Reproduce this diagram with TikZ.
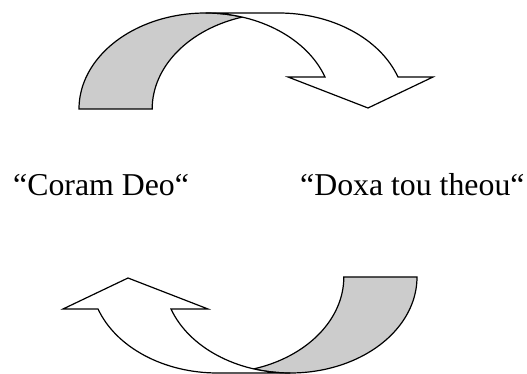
\documentclass[tikz,border=0pt]{standalone}
\usepackage{fontspec}
\setmainfont{Liberation Serif}
\begin{document}
\begin{tikzpicture}[x=1pt,y=1pt,
  back/.style={fill=black!20,draw=black,line width=1.2pt},
  front/.style={fill=white,draw=black,line width=1.2pt},
  lbl/.style={anchor=base west,inner sep=0pt,font=\fontsize{31.8}{36}\selectfont}]
\useasboundingbox (0,0) rectangle (527,374);
% one curved arrow, drawn as a reusable macro
\def\curvedarrow{%
  \path[back] (79,265) arc[start angle=180,end angle=73.2,x radius=126.6pt,y radius=96pt]
     arc[start angle=106.8,end angle=180,x radius=126.6pt,y radius=96pt] -- cycle;
  \path[front] (205.6,361) -- (278.6,361)
     arc[start angle=90,end angle=19.47,x radius=126.6pt,y radius=96pt]
     -- (433,297) -- (368,266) -- (288,297) -- (325,297)
     arc[start angle=19.47,end angle=90,x radius=126.6pt,y radius=96pt] -- cycle;}
\curvedarrow
\begin{scope}[rotate around={180:(248,181)}]
\curvedarrow
\end{scope}
\node[lbl] (coram) at (13,178) {“Coram Deo“};
\node[lbl] (doxa) at (300,178) {“Doxa tou theou“};
\end{tikzpicture}
\end{document}
